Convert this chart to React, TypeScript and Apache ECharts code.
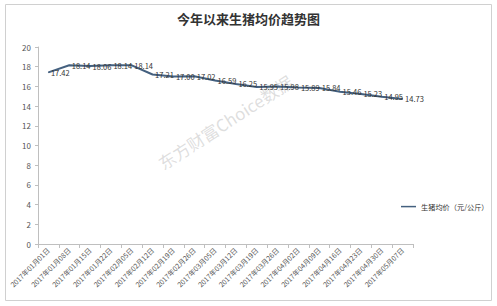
import React, { useEffect, useRef } from "react";
import * as echarts from "echarts";

const categories = [
  "2017年01月01日", "2017年01月08日", "2017年01月15日", "2017年01月22日",
  "2017年02月05日", "2017年02月12日", "2017年02月19日", "2017年02月26日",
  "2017年03月05日", "2017年03月12日", "2017年03月19日", "2017年03月26日",
  "2017年04月02日", "2017年04月09日", "2017年04月16日", "2017年04月23日",
  "2017年04月30日", "2017年05月07日",
];
const prices = [
  17.42, 18.14, 18.06, 18.14, 18.14, 17.21, 17.0, 17.02, 16.59,
  16.25, 15.95, 15.98, 15.89, 15.84, 15.46, 15.23, 14.95, 14.73,
];
const seriesName = "生猪均价（元/公斤）";
const titleText = "今年以来生猪均价趋势图";
const watermark = "东方财富Choice数据";

const FONT = "'Noto Sans CJK SC', 'Noto Sans', sans-serif";

export default function App() {
  const ref = useRef<HTMLDivElement>(null);
  useEffect(() => {
    if (!ref.current) return;
    const chart = echarts.init(ref.current, undefined, { renderer: "svg" });
    chart.setOption({
      animation: false,
      backgroundColor: "#ffffff",
      textStyle: { fontFamily: FONT },
      title: {
        text: titleText,
        left: "center",
        top: 7,
        textStyle: { fontSize: 13, fontWeight: "bold", color: "#333", fontFamily: FONT },
      },
      legend: {
        data: [seriesName],
        left: 401,
        top: 203,
        padding: 0,
        icon: "rect",
        itemWidth: 15,
        itemHeight: 1.5,
        itemGap: 3,
        textStyle: { fontSize: 7.2, color: "#333", fontFamily: FONT, padding: 0 },
      },
      grid: { left: 38, right: 84, top: 47, bottom: 62, containLabel: false },
      xAxis: {
        type: "category",
        data: categories,
        boundaryGap: true,
        axisLine: { lineStyle: { color: "#bfbfbf" } },
        axisTick: { show: true, length: 4, lineStyle: { color: "#bfbfbf" } },
        axisLabel: { rotate: 45, fontSize: 7, color: "#555", interval: 0, margin: 5, fontFamily: FONT },
      },
      yAxis: {
        type: "value",
        min: 0,
        max: 20,
        interval: 2,
        splitLine: { show: false },
        axisLine: { show: true, lineStyle: { color: "#bfbfbf" } },
        axisTick: { show: true, length: 3, lineStyle: { color: "#bfbfbf" } },
        axisLabel: { fontSize: 8, color: "#555", margin: 7, fontFamily: FONT },
      },
      series: [
        {
          name: seriesName,
          type: "line",
          data: prices,
          symbol: "circle",
          symbolSize: 1,
          showSymbol: true,
          lineStyle: { color: "#44607f", width: 2 },
          itemStyle: { color: "#44607f" },
          label: {
            show: true,
            position: "right",
            distance: 2,
            fontSize: 7.5,
            color: "#333",
            fontFamily: FONT,
            formatter: (p: any) => Number(p.value).toFixed(2),
          },
        },
      ],
      graphic: [
        {
          type: "rect",
          shape: { x: 5.5, y: 4.5, width: 486, height: 296 },
          style: { fill: "none", stroke: "#d0d0d0", lineWidth: 1 },
          silent: true,
        },
        {
          type: "text",
          x: 225,
          y: 122,
          rotation: (33 * Math.PI) / 180,
          style: {
            text: watermark,
            fontSize: 17,
            fill: "rgba(160,160,160,0.35)",
            fontFamily: FONT,
            align: "center",
            verticalAlign: "middle",
          },
          silent: true,
          z: 0,
        },
      ],
    });
    return () => chart.dispose();
  }, []);
  return (
    <div
      ref={ref}
      style={{ position: "absolute", left: 0, top: 0, width: 497, height: 306 }}
    />
  );
}
